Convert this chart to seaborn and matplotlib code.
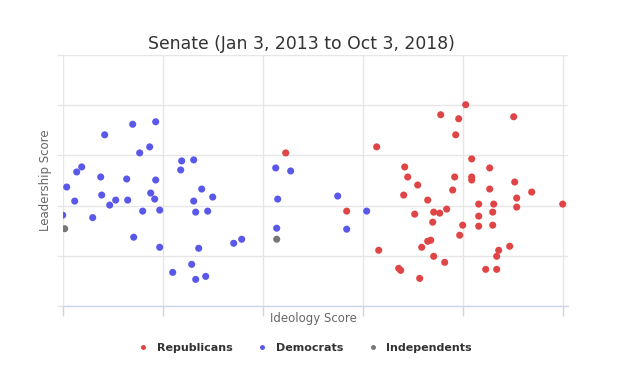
import matplotlib
matplotlib.use("Agg")
import matplotlib.pyplot as plt
import seaborn as sns
import pandas as pd

# ideology / leadership scores
dem_x = [0.04, 0.14, 0.19, 0.42, 0.38, 0.70, 0.93, 0.87, 0.77, 0.64, 0.93, 0.88,
         1.18, 1.19, 1.31, 1.39, 1.50, 2.13, 2.28, 0.39, 0.12, 0.00, 0.30, 0.47,
         0.53, 0.65, 0.92, 0.80, 0.97, 0.71, 0.97, 1.10, 1.29, 1.33, 1.43, 1.36,
         1.31, 1.33, 1.45, 1.71, 1.79, 2.15, 2.14, 2.75, 3.04, 2.84]
dem_y = [2.37, 2.67, 2.77, 3.41, 2.57, 3.62, 3.67, 3.17, 3.05, 2.53, 2.51, 2.25,
         2.71, 2.89, 2.91, 2.33, 2.17, 2.75, 2.69, 2.21, 2.09, 1.81, 1.76, 2.01,
         2.11, 2.11, 2.13, 1.89, 1.91, 1.37, 1.17, 0.67, 0.83, 0.53, 0.59, 1.15,
         2.09, 1.87, 1.89, 1.25, 1.33, 2.13, 1.55, 2.19, 1.89, 1.53]

rep_x = [4.03, 3.78, 3.96, 4.51, 3.93, 3.14, 4.09, 4.27, 3.42, 3.45, 3.92, 4.09,
         4.09, 3.55, 3.90, 4.27, 4.52, 4.69, 3.41, 4.54, 3.65, 4.54, 5.00, 4.16,
         4.31, 4.30, 4.16, 4.16, 4.30, 4.00, 3.97, 3.84, 3.77, 3.71, 3.70, 3.52,
         2.84, 3.16, 3.59, 3.65, 3.68, 3.71, 3.82, 3.36, 3.38, 3.57, 4.23, 4.34,
         4.34, 4.36, 4.47, 2.23]
rep_y = [4.01, 3.81, 3.73, 3.77, 3.41, 3.17, 2.93, 2.75, 2.77, 2.57, 2.57, 2.57,
         2.51, 2.41, 2.31, 2.33, 2.47, 2.27, 2.21, 2.15, 2.11, 1.97, 2.03, 2.03,
         2.03, 1.87, 1.79, 1.59, 1.61, 1.61, 1.41, 1.93, 1.85, 1.87, 1.67, 1.83,
         1.89, 1.11, 1.17, 1.29, 1.31, 0.99, 0.87, 0.75, 0.71, 0.55, 0.73, 0.73,
         0.99, 1.11, 1.19, 3.05]

ind_x = [0.02, 2.14]
ind_y = [1.54, 1.33]

parties = ["Republicans", "Democrats", "Independents"]
colors = ["#e04545", "#5a58e8", "#777777"]

df = pd.concat([
    pd.DataFrame({"ideology": rep_x, "leadership": rep_y, "party": parties[0]}),
    pd.DataFrame({"ideology": dem_x, "leadership": dem_y, "party": parties[1]}),
    pd.DataFrame({"ideology": ind_x, "leadership": ind_y, "party": parties[2]}),
])

sns.set_style("white")
plt.rcParams["font.family"] = ["DejaVu Sans"]

fig = plt.figure(figsize=(6.41, 3.66), dpi=100)
ax = fig.add_axes([62.7 / 641, 1 - 306 / 366, 505 / 641, 251 / 366])

sns.scatterplot(data=df, x="ideology", y="leadership", hue="party",
                hue_order=parties, palette=colors, s=26, linewidth=0,
                ax=ax, zorder=3)

ax.set_xlim(0, 5.05)
ax.set_ylim(0, 5)
ax.set_xticks([0, 1, 2, 3, 4, 5])
ax.set_yticks([0, 1, 2, 3, 4, 5])
ax.set_xticklabels([])
ax.set_yticklabels([])
ax.grid(True, color="#e6e6e6", linewidth=1)
ax.tick_params(axis="x", bottom=True, length=7, color="#ccd6eb", width=1)
ax.tick_params(axis="y", left=True, length=4, color="#e6e6e6", width=1)
for side in ["top", "right", "left"]:
    ax.spines[side].set_visible(False)
ax.spines["bottom"].set_color("#ccd6eb")
ax.spines["bottom"].set_linewidth(1)

ax.set_xlabel("Ideology Score", color="#666666", fontsize=8.5)
ax.set_ylabel("Leadership Score", color="#666666", fontsize=8.5)
ax.xaxis.set_label_coords(0.497, -0.048)
ax.xaxis.label.set_va("center")
ax.yaxis.set_label_coords(-0.035, 0.5)
ax.yaxis.label.set_va("center")

fig.text(301 / 641, 1 - 44 / 366, "Senate (Jan 3, 2013 to Oct 3, 2018)",
         ha="center", va="center", fontsize=12.4, color="#333333")

sns.move_legend(ax, "center", bbox_to_anchor=(0.474, -0.167), ncol=3,
                title=None, frameon=False, fontsize=8, columnspacing=1.7,
                handletextpad=0.2, markerscale=0.7)
for t in ax.get_legend().get_texts():
    t.set_fontweight("bold")
    t.set_color("#333333")

plt.savefig("out.png", dpi=100)
plt.close()
